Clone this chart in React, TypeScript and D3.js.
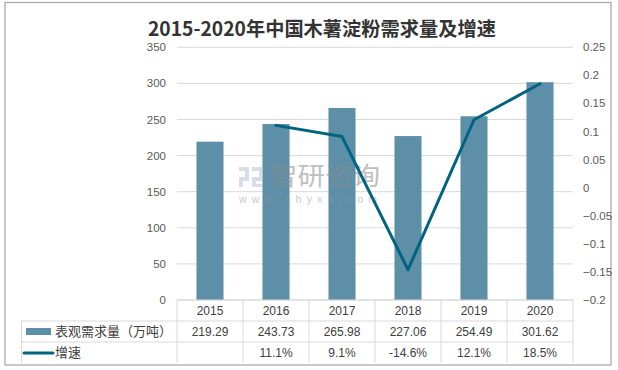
import React from 'react';
import * as d3 from 'd3';

const years = ['2015', '2016', '2017', '2018', '2019', '2020'];
const demand = [219.29, 243.73, 265.98, 227.06, 254.49, 301.62];
const growth: (number | null)[] = [null, 0.111, 0.091, -0.146, 0.121, 0.185];
const growthLabels = ['', '11.1%', '9.1%', '-14.6%', '12.1%', '18.5%'];
const leftTicks = [0, 50, 100, 150, 200, 250, 300, 350];
const rightTicks = [-0.2, -0.15, -0.1, -0.05, 0, 0.05, 0.1, 0.15, 0.2, 0.25];

const W = 618;
const H = 370;
const plot = { left: 177, right: 573, top: 47.3, bottom: 300 };
const rowH = 21;
const legendX = 21.5;
const barColor = '#5d90a8';
const lineColor = '#00637f';
const gridColor = '#d9d9d9';
const textColor = '#595959';
const numFont = '"Liberation Sans", "Noto Sans CJK SC", sans-serif';
const cjkFont = '"Noto Sans CJK SC", sans-serif';

export default function App() {
  const x = d3.scaleBand().domain(years).range([plot.left, plot.right]).paddingInner(0).paddingOuter(0);
  const yL = d3.scaleLinear().domain([0, 350]).range([plot.bottom, plot.top]);
  const yR = d3.scaleLinear().domain([-0.2, 0.25]).range([plot.bottom, plot.top]);
  const barW = x.bandwidth() * 0.41;

  const line = d3.line<[string, number | null]>()
    .defined(d => d[1] !== null)
    .x(d => (x(d[0]) as number) + x.bandwidth() / 2)
    .y(d => yR(d[1] as number));
  const pts = years.map((y, i) => [y, growth[i]] as [string, number | null]);

  const row1 = plot.bottom + rowH;
  const row2 = row1 + rowH;
  const tableBottom = 363;

  return (
    <svg width={W} height={H} style={{ position: 'absolute', left: 0, top: 0 }}>
      <rect x={0} y={0} width={W} height={H} fill="#fff" />
      <rect x={5} y={2.5} width={606} height={362.5} fill="none" stroke="#a6a6a6" strokeWidth={1.2} />

      <text x={322} y={36} textAnchor="middle" fontFamily={cjkFont} fontWeight="bold" fontSize={19.5} fill="#333" textLength={348} lengthAdjust="spacingAndGlyphs">
        2015-2020年中国木薯淀粉需求量及增速
      </text>

      {/* grid */}
      {leftTicks.map(t => (
        <line key={t} x1={plot.left} x2={plot.right} y1={yL(t)} y2={yL(t)} stroke={gridColor} strokeWidth={1} />
      ))}

      {/* left axis labels */}
      {leftTicks.map(t => (
        <text key={t} x={166} y={yL(t)} dy="0.35em" textAnchor="end" fontFamily={numFont} fontSize={11.5} fill={textColor}>{t}</text>
      ))}
      {/* right axis labels */}
      {rightTicks.map(t => (
        <text key={t} x={583} y={yR(t)} dy="0.35em" textAnchor="start" fontFamily={numFont} fontSize={11.5} fill={textColor}>{d3.format('')(+t.toFixed(2))}</text>
      ))}

      {/* bars */}
      {demand.map((v, i) => (
        <rect key={years[i]} x={(x(years[i]) as number) + (x.bandwidth() - barW) / 2} y={yL(v)} width={barW} height={yL(0) - yL(v)} fill={barColor} />
      ))}

      {/* watermark */}
      <g opacity={0.55}>
        <g fill="#b8c4d8">
          <rect x={239} y={167} width={10} height={4} />
          <rect x={245} y={171} width={4} height={6} />
          <rect x={239} y={177} width={10} height={4} />
          <rect x={239} y={181} width={4} height={6} />
          <rect x={252} y={167} width={11} height={4} />
          <rect x={259} y={171} width={4} height={6} />
          <rect x={252} y={177} width={11} height={4} />
          <rect x={252} y={181} width={4} height={6} />
          <rect x={252} y={184} width={11} height={3} />
        </g>
        <text x={270} y={185} fontFamily={cjkFont} fontSize={25} fill="#8c8c8c" textLength={110} lengthAdjust="spacingAndGlyphs">智研咨询</text>
        <text x={239} y={203} fontFamily={numFont} fontSize={10.5} fill="#9a9a9a" textLength={138} lengthAdjust="spacing">www.chyxx.com</text>
      </g>

      {/* growth line */}
      <path d={line(pts) || ''} fill="none" stroke={lineColor} strokeWidth={3} strokeLinejoin="round" strokeLinecap="round" />

      {/* data table */}
      <line x1={plot.left} x2={plot.right} y1={plot.bottom} y2={plot.bottom} stroke={gridColor} />
      <line x1={legendX} x2={plot.right} y1={row1} y2={row1} stroke={gridColor} />
      <line x1={legendX} x2={plot.right} y1={row2} y2={row2} stroke={gridColor} />
      <line x1={legendX} x2={legendX} y1={row1} y2={tableBottom} stroke={gridColor} />
      {years.map(y => (
        <line key={y} x1={x(y) as number} x2={x(y) as number} y1={plot.bottom} y2={tableBottom} stroke={gridColor} />
      ))}
      <line x1={plot.right} x2={plot.right} y1={plot.bottom} y2={tableBottom} stroke={gridColor} />

      {years.map((y, i) => (
        <g key={y} fontFamily={numFont} fontSize={12} fill="#404040" textAnchor="middle">
          <text x={(x(y) as number) + x.bandwidth() / 2} y={plot.bottom + rowH / 2} dy="0.36em">{y}</text>
          <text x={(x(y) as number) + x.bandwidth() / 2} y={row1 + rowH / 2} dy="0.36em">{demand[i].toFixed(2)}</text>
          <text x={(x(y) as number) + x.bandwidth() / 2} y={row2 + rowH / 2} dy="0.36em">{growthLabels[i]}</text>
        </g>
      ))}

      {/* legend */}
      <rect x={26} y={328} width={25} height={7} fill={barColor} />
      <text x={55} y={row1 + rowH / 2} dy="0.36em" fontFamily={cjkFont} fontSize={13} fill="#404040">表观需求量（万吨）</text>
      <line x1={24} x2={53} y1={353} y2={353} stroke={lineColor} strokeWidth={3} strokeLinecap="round" />
      <text x={55} y={row2 + rowH / 2} dy="0.36em" fontFamily={cjkFont} fontSize={13} fill="#404040">增速</text>
    </svg>
  );
}
